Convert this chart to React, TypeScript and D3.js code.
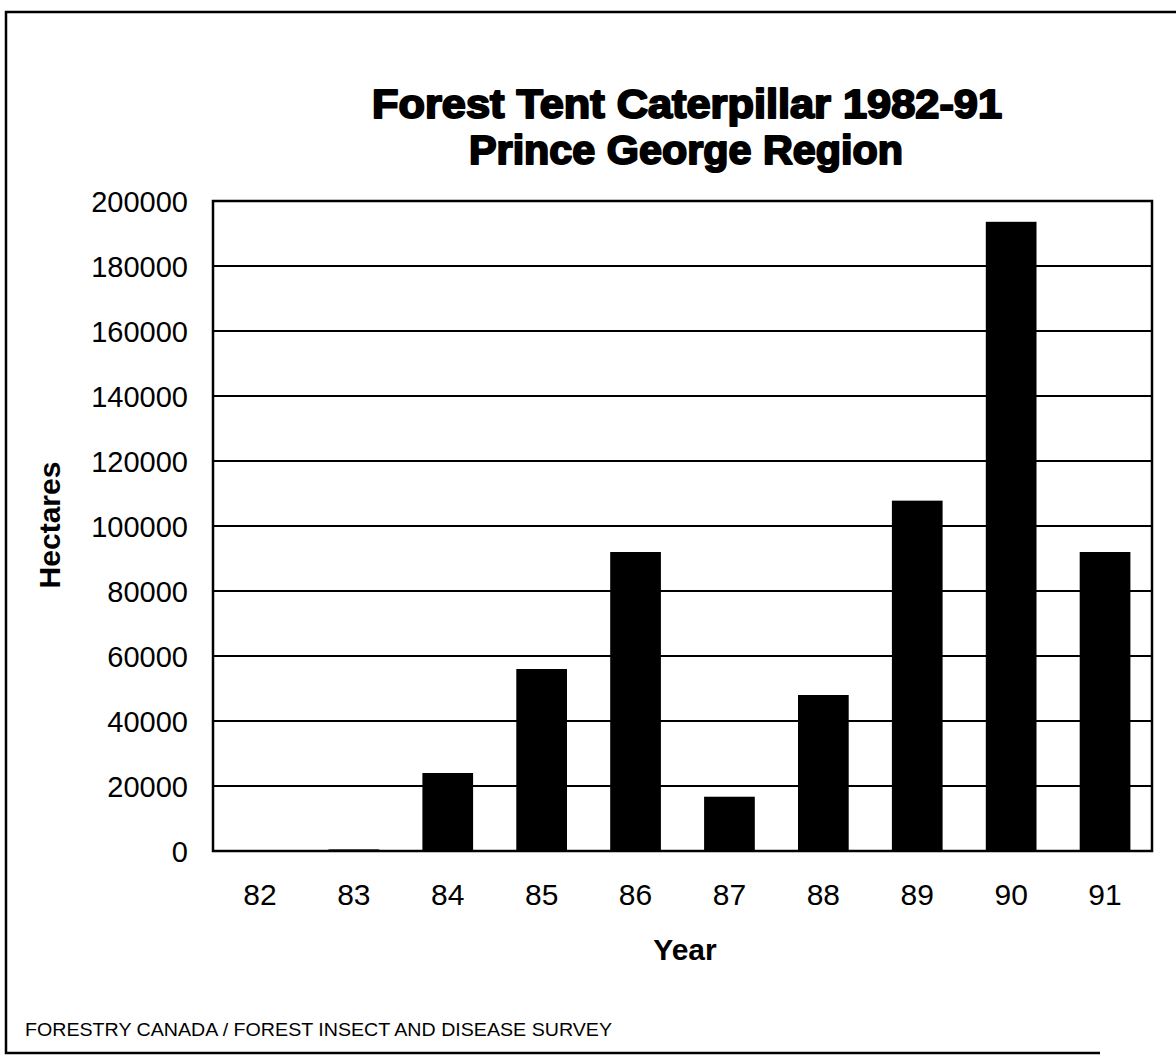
import React from "react";
import * as d3 from "d3";

const years = ["82", "83", "84", "85", "86", "87", "88", "89", "90", "91"];
const hectares = [0, 500, 24000, 56000, 92000, 16700, 48000, 107800, 193600, 92000];
const yTicks = [0, 20000, 40000, 60000, 80000, 100000, 120000, 140000, 160000, 180000, 200000];
const titleLines = ["Forest Tent Caterpillar 1982-91", "Prince George Region"];
const yLabel = "Hectares";
const xLabel = "Year";
const footer = "FORESTRY CANADA / FOREST INSECT AND DISEASE SURVEY";

const W = 1176;
const H = 1057;
const left = 213;
const right = 1152;
const top = 201;
const bottom = 851;

export default function App() {
  const x = d3.scaleBand<string>().domain(years).range([left, right]).paddingInner(0.46).paddingOuter(0.23);
  const y = d3.scaleLinear().domain([0, 200000]).range([bottom, top]);
  const font = "'Liberation Sans', Arial, Helvetica, sans-serif";

  return (
    <svg
      width={W}
      height={H}
      viewBox={`0 0 ${W} ${H}`}
      style={{ position: "absolute", left: 0, top: 0, background: "#fff" }}
    >
      <rect x={0} y={0} width={W} height={H} fill="#fff" />
      {/* outer frame */}
      <path d={`M1176,12 L6,12 L6,1053 L1100,1053`} fill="none" stroke="#000" strokeWidth={2.5} />

      {/* title */}
      <text
        x={687}
        y={118}
        textAnchor="middle"
        fontFamily={font}
        fontWeight={900}
        fontSize={40}
        stroke="#000"
        strokeWidth={2}
        strokeLinejoin="round"
        textLength={630}
        lengthAdjust="spacingAndGlyphs"
      >
        {titleLines[0]}
      </text>
      <text
        x={686}
        y={164}
        textAnchor="middle"
        fontFamily={font}
        fontWeight={900}
        fontSize={40}
        stroke="#000"
        strokeWidth={2}
        strokeLinejoin="round"
        textLength={434}
        lengthAdjust="spacingAndGlyphs"
      >
        {titleLines[1]}
      </text>

      {/* gridlines */}
      {yTicks.map((t) => (
        <line key={"g" + t} x1={left} x2={right} y1={y(t)} y2={y(t)} stroke="#000" strokeWidth={2} />
      ))}

      {/* bars */}
      {years.map((yr, i) => (
        <rect
          key={yr}
          x={x(yr)}
          y={y(hectares[i])}
          width={x.bandwidth()}
          height={bottom - y(hectares[i])}
          fill="#000"
        />
      ))}

      {/* plot frame */}
      <rect x={left} y={top} width={right - left} height={bottom - top} fill="none" stroke="#000" strokeWidth={2.5} />

      {/* y tick labels */}
      {yTicks.map((t) => (
        <text
          key={"yl" + t}
          x={188}
          y={y(t) + 10.5}
          textAnchor="end"
          fontFamily={font}
          fontSize={29}
          fill="#000"
        >
          {t}
        </text>
      ))}

      {/* x tick labels */}
      {years.map((yr) => (
        <text
          key={"xl" + yr}
          x={(x(yr) as number) + x.bandwidth() / 2}
          y={905}
          textAnchor="middle"
          fontFamily={font}
          fontSize={30}
          fill="#000"
        >
          {yr}
        </text>
      ))}

      {/* axis titles */}
      <text
        transform={`translate(60,525) rotate(-90)`}
        textAnchor="middle"
        fontFamily={font}
        fontWeight={700}
        fontSize={30}
        fill="#000"
      >
        {yLabel}
      </text>
      <text x={685} y={960} textAnchor="middle" fontFamily={font} fontWeight={700} fontSize={30} fill="#000">
        {xLabel}
      </text>

      {/* footer */}
      <text
        x={25}
        y={1036}
        fontFamily={font}
        fontSize={19}
        fill="#000"
        textLength={587}
        lengthAdjust="spacingAndGlyphs"
      >
        {footer}
      </text>
    </svg>
  );
}
